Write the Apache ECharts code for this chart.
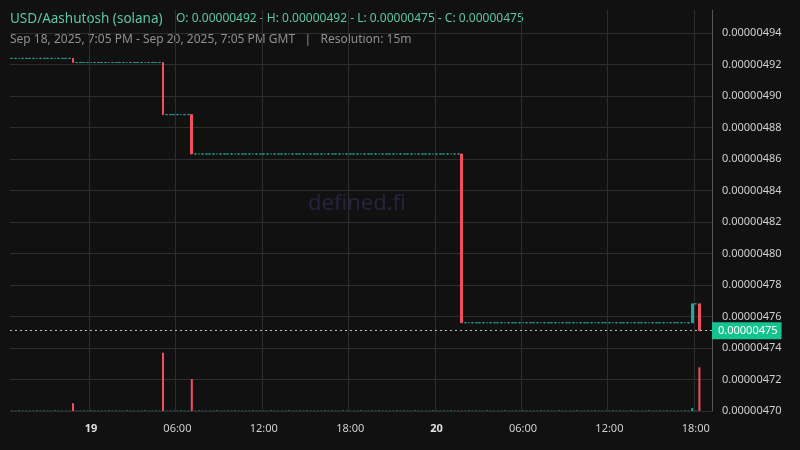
<!DOCTYPE html><html><head><meta charset="utf-8"><script src="https://cdn.jsdelivr.net/npm/echarts@6/dist/echarts.min.js"></script>
<style>html,body{margin:0;background:#111}#c{width:800px;height:450px}</style></head><body><div id="c"></div><script>
// prices in units of 1e-8 USD
const startTime = Date.UTC(2025,8,18,18,30);
const candleCount = 192;
const eventIdx   = [17, 42, 50, 125, 189, 191];
const eventOpen  = [492.38, 492.12, 488.81, 486.31, 475.60, 476.80];
const eventClose = [492.12, 488.81, 486.31, 475.60, 476.80, 475.10];
const eventVol   = [8, 60, 33, 0, 3, 45];
const firstPrice = 492.38;
const baseVol = 0.4;
const lastPrice = 475.10;

const cats=[], ohlc=[], vols=[];
let p = firstPrice;
for(let i=0;i<195;i++){
  const t=new Date(startTime+i*900000); cats.push(t);
  if(i>=candleCount){ohlc.push('-');vols.push('-');continue;}
  const k=eventIdx.indexOf(i);
  if(k>=0){const o=eventOpen[k],c=eventClose[k];ohlc.push([o,c,Math.min(o,c),Math.max(o,c)]);vols.push({value:eventVol[k]||baseVol,itemStyle:{color:c<o?'#f0505e':'#26a69a'}});p=c;}
  else {ohlc.push([p,p,p,p]);vols.push({value:baseVol,itemStyle:{color:'#26a69a'}});}
}
const isTick=(i)=>{const t=cats[i];return t.getUTCMinutes()===0&&t.getUTCHours()%6===0;};
const font='"Noto Sans", sans-serif';
const ch=echarts.init(document.getElementById('c'));
ch.setOption({
  backgroundColor:'#111111', animation:false,
  graphic:[
    {type:'text',left:10,top:12,style:{text:'USD/Aashutosh (solana)',fill:'#5cc6a5',font:'13.5px '+font}},
    {type:'text',left:176,top:13,style:{text:'O: 0.00000492 - H: 0.00000492 - L: 0.00000475 - C: 0.00000475',fill:'#5cc6a5',font:'12px '+font}},
    {type:'text',left:10,top:34,style:{text:'Sep 18, 2025, 7:05 PM - Sep 20, 2025, 7:05 PM GMT   |   Resolution: 15m',fill:'#8f8f8f',font:'12px '+font}},
    {type:'text',left:308,top:193,style:{text:'defined.fi',fill:'#24243d',font:'22px '+font}}
  ],
  grid:[{left:10,right:88,top:10,bottom:39},{left:10,right:88,top:345,bottom:39}],
  xAxis:[
    {type:'category',data:cats,gridIndex:0,axisLine:{show:false},axisTick:{show:false},
     axisLabel:{interval:(i)=>isTick(i),color:'#cfcfcf',fontFamily:font,fontSize:11,margin:12,
       formatter:(v,i)=>{const t=cats[i];const h=t.getUTCHours();return h===0?'{b|'+t.getUTCDate()+'}':String(h).padStart(2,'0')+':00';},
       rich:{b:{fontWeight:'bold',color:'#e0e0e0',fontSize:11,fontFamily:font}}},
     splitLine:{show:true,interval:(i)=>isTick(i),lineStyle:{color:'#2e2e2e'}}},
    {type:'category',data:cats,gridIndex:1,show:false}
  ],
  yAxis:[
    {type:'value',position:'right',min:470,max:495.45,interval:2,gridIndex:0,
     axisLine:{show:true,lineStyle:{color:'#555'}},axisTick:{show:false},
     axisLabel:{showMaxLabel:false,color:'#cfcfcf',fontFamily:font,fontSize:11,margin:10,formatter:v=>(v*1e-8).toFixed(8)},
     splitLine:{showMaxLine:false,lineStyle:{color:'#2e2e2e'}}},
    {type:'value',gridIndex:1,show:false,min:0,max:68}
  ],
  series:[
    {type:'candlestick',data:ohlc,barWidth:'60%',
     itemStyle:{color:'#26a69a',color0:'#f0505e',borderColor:'#26a69a',borderColor0:'#f0505e',borderColorDoji:'#26a69a',borderWidth:1},
     markLine:{symbol:'none',silent:true,data:[{yAxis:lastPrice}],
       lineStyle:{color:'#bbbbbb',type:[2,3],width:1},
       label:{position:'end',formatter:()=> '0.00000475',backgroundColor:'#14c38e',color:'#fff',padding:[3,4,3,6],fontFamily:font,fontSize:11,distance:0}}},
    {type:'bar',data:vols,xAxisIndex:1,yAxisIndex:1,barWidth:2}
  ]
});
</script></body></html>
